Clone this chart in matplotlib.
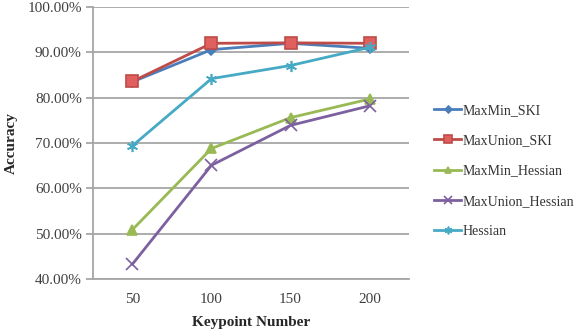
import matplotlib
matplotlib.use("Agg")
import matplotlib.pyplot as plt
from matplotlib.ticker import FuncFormatter

keypoints = ["50", "100", "150", "200"]
maxmin_ski = [83.5, 90.6, 92.0, 90.9]
maxunion_ski = [83.6, 92.0, 92.1, 92.0]
maxmin_hessian = [50.9, 68.8, 75.6, 79.7]
maxunion_hessian = [43.3, 65.1, 73.9, 78.2]
hessian = [69.4, 84.2, 87.1, 91.1]
y_ticks = [40, 50, 60, 70, 80, 90, 100]

plt.rcParams['font.family'] = ['Liberation Serif', 'DejaVu Serif']

fig = plt.figure(figsize=(5.81, 3.35), dpi=100)
ax = fig.add_axes([0.160, 0.167, 0.544, 0.812])

x = list(range(len(keypoints)))
series = [
    ("MaxMin_SKI", maxmin_ski, "#4a7ebb", "D", 5, "#4a7ebb"),
    ("MaxUnion_SKI", maxunion_ski, "#be4b48", "s", 8, "#e06060"),
    ("MaxMin_Hessian", maxmin_hessian, "#98b954", "^", 7, "#98b954"),
    ("MaxUnion_Hessian", maxunion_hessian, "#7d60a0", "x", 8, "#7d60a0"),
    ("Hessian", hessian, "#46aac5", (6, 2, 0), 8, "#46aac5"),
]
for name, vals, col, mk, ms, fc in series:
    ax.plot(x, vals, color=col, lw=2, marker=mk, markersize=ms,
            markerfacecolor=fc, markeredgecolor=col, markeredgewidth=1.2,
            label=name)

ax.set_xlim(-0.5, 3.5)
ax.set_ylim(40, 100)
ax.set_xticks(x)
ax.set_xticklabels(keypoints)
ax.set_yticks(y_ticks)
ax.yaxis.set_major_formatter(FuncFormatter(lambda v, p: f"{v:.2f}%"))
ax.grid(axis='y', color='#a6a6a6', lw=1.3)
ax.set_axisbelow(True)
for s in ['top', 'right']:
    ax.spines[s].set_visible(False)
for s in ['left', 'bottom']:
    ax.spines[s].set_color('#a6a6a6')
    ax.spines[s].set_linewidth(1.3)
ax.tick_params(axis='y', length=5, color='#a6a6a6', width=1.3, labelsize=11,
               labelcolor='#404040', pad=3)
ax.tick_params(axis='x', length=0, labelsize=11, labelcolor='#404040', pad=10)
ax.set_xlabel("Keypoint Number", fontsize=11, fontweight='bold', color='#262626', labelpad=7)
ax.set_ylabel("Accuracy", fontsize=11, fontweight='bold', color='#262626', labelpad=7)

leg = ax.legend(loc='center left', bbox_to_anchor=(1.08, 0.397), frameon=False,
                fontsize=10, labelspacing=1.25, handlelength=1.9,
                handletextpad=0.1, borderaxespad=0, borderpad=0, markerscale=0.7)
for t in leg.get_texts():
    t.set_color('#333333')

fig.savefig("out.png", dpi=100)
